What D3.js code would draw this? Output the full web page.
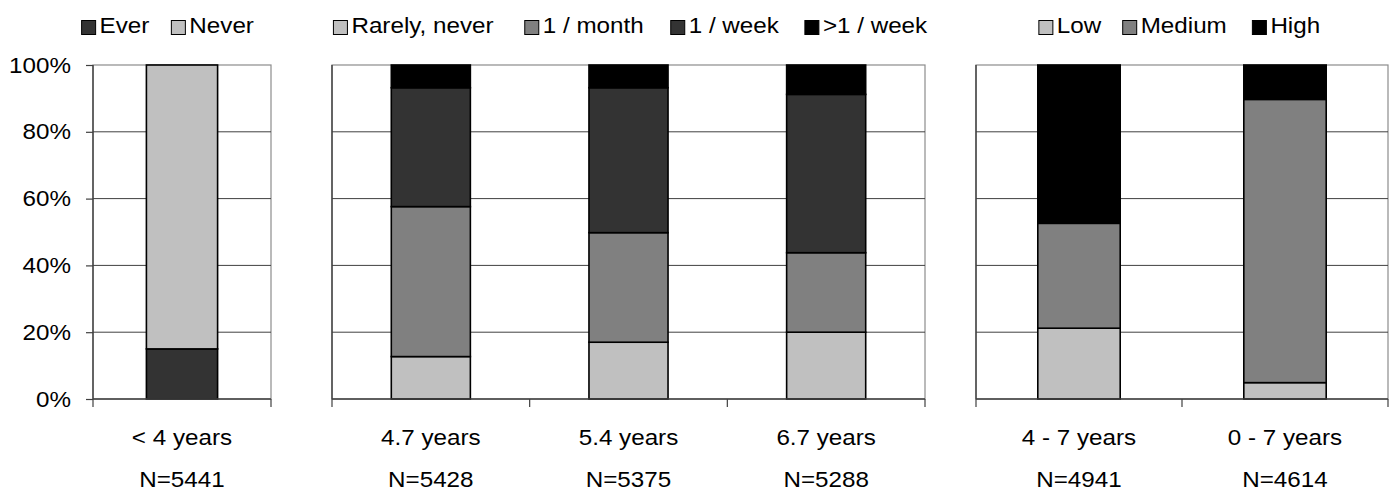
<!DOCTYPE html>
<html>
<head>
<meta charset="utf-8">
<script src="https://cdn.jsdelivr.net/npm/d3@7"></script>
<style>
  body { margin: 0; background: #fff; }
  text { font-family: "Liberation Sans", Arial, sans-serif; fill: #000; }
</style>
</head>
<body>
<div id="chart"></div>
<script>
// panel 1: smoking
const smokeCats = ["< 4 years"];
const smokeN = ["N=5441"];
const smokeSeries = ["Ever", "Never"];
const smokeEver = [15];
const smokeNever = [85];

// panel 2: frequency
const freqCats = ["4.7 years", "5.4 years", "6.7 years"];
const freqN = ["N=5428", "N=5375", "N=5288"];
const freqSeries = ["Rarely, never", "1 / month", "1 / week", ">1 / week"];
const freqRarely = [12.7, 17.0, 20.0];
const freqMonth = [44.9, 32.8, 23.8];
const freqWeek = [35.6, 43.4, 47.4];
const freqMore = [6.8, 6.8, 8.8];

// panel 3: level
const levelCats = ["4 - 7 years", "0 - 7 years"];
const levelN = ["N=4941", "N=4614"];
const levelSeries = ["Low", "Medium", "High"];
const levelLow = [21.2, 4.9];
const levelMedium = [31.4, 84.8];
const levelHigh = [47.4, 10.3];

const yTicks = [0, 20, 40, 60, 80, 100];

const W = 1396, H = 498;
const plotTop = 65, plotBottom = 399;
const fontSize = 22, stretch = 1.1;

const svg = d3.select("#chart").append("svg")
  .attr("width", W)
  .attr("height", H);

const y = d3.scaleLinear().domain([0, 100]).range([plotBottom, plotTop]);

function widen(sel) {
  sel.each(function () {
    const w = this.getComputedTextLength();
    d3.select(this).attr("textLength", w * stretch).attr("lengthAdjust", "spacingAndGlyphs");
  });
}

function drawPanel(cfg) {
  const g = svg.append("g");
  const x = d3.scaleBand().domain(cfg.cats).range([cfg.x0, cfg.x1]).paddingInner(0);
  const barW = x.bandwidth() * 0.4;

  // frame
  g.append("rect")
    .attr("x", cfg.x0).attr("y", plotTop)
    .attr("width", cfg.x1 - cfg.x0).attr("height", plotBottom - plotTop)
    .attr("fill", "none").attr("stroke", "#8c8c8c").attr("stroke-width", 1.2);

  // gridlines
  g.selectAll("line.grid")
    .data(yTicks.filter(d => d > 0 && d < 100))
    .join("line")
    .attr("class", "grid")
    .attr("x1", cfg.x0).attr("x2", cfg.x1)
    .attr("y1", d => y(d)).attr("y2", d => y(d))
    .attr("stroke", "#404040").attr("stroke-width", 1);

  // left axis line
  g.append("line")
    .attr("x1", cfg.x0).attr("x2", cfg.x0).attr("y1", plotTop).attr("y2", plotBottom)
    .attr("stroke", "#404040").attr("stroke-width", 1.4);

  // stacked bars
  const rows = cfg.cats.map((c, i) => {
    const r = { cat: c };
    cfg.series.forEach((s, j) => r[s] = cfg.values[j][i]);
    return r;
  });
  const stacked = d3.stack().keys(cfg.series)(rows);
  const color = d3.scaleOrdinal().domain(cfg.series).range(cfg.colors);

  g.selectAll("g.layer")
    .data(stacked)
    .join("g")
    .attr("class", "layer")
    .attr("fill", d => color(d.key))
    .selectAll("rect")
    .data(d => d)
    .join("rect")
    .attr("x", d => x(d.data.cat) + (x.bandwidth() - barW) / 2)
    .attr("y", d => y(d[1]))
    .attr("width", barW)
    .attr("height", d => y(d[0]) - y(d[1]))
    .attr("stroke", "#000")
    .attr("stroke-width", 1.6);

  // bottom axis
  g.append("line")
    .attr("x1", cfg.x0).attr("x2", cfg.x1).attr("y1", plotBottom).attr("y2", plotBottom)
    .attr("stroke", "#404040").attr("stroke-width", 1.4);
  const bounds = cfg.cats.map(c => x(c)).concat([cfg.x1]);
  g.selectAll("line.xtick")
    .data(bounds)
    .join("line")
    .attr("class", "xtick")
    .attr("x1", d => d).attr("x2", d => d)
    .attr("y1", plotBottom).attr("y2", plotBottom + 8)
    .attr("stroke", "#404040").attr("stroke-width", 1.2);

  g.selectAll("text.cat")
    .data(cfg.cats)
    .join("text")
    .attr("class", "cat")
    .attr("x", d => x(d) + x.bandwidth() / 2)
    .attr("y", 445)
    .attr("text-anchor", "middle")
    .style("font-size", fontSize + "px")
    .text(d => d)
    .call(widen);

  g.selectAll("text.n")
    .data(cfg.nLabels)
    .join("text")
    .attr("class", "n")
    .attr("x", (d, i) => x(cfg.cats[i]) + x.bandwidth() / 2)
    .attr("y", 487)
    .attr("text-anchor", "middle")
    .style("font-size", fontSize + "px")
    .text(d => d)
    .call(widen);

  if (cfg.showY) {
    const ax = g.append("g")
      .attr("transform", `translate(${cfg.x0},0)`)
      .call(d3.axisLeft(y).tickValues(yTicks).tickFormat(d => d + "%").tickSize(7).tickPadding(15));
    ax.select(".domain").remove();
    ax.selectAll(".tick line").attr("stroke", "#404040").attr("stroke-width", 1.2);
    ax.selectAll(".tick text")
      .style("font-size", fontSize + "px")
      .style("font-family", "'Liberation Sans', Arial, sans-serif")
      .attr("fill", "#000")
      .call(widen);
  }

  // legend
  const gap = 17;
  const lg = g.append("g");
  let cx = 0;
  cfg.series.forEach((s, i) => {
    const item = lg.append("g").attr("transform", `translate(${cx},0)`);
    item.append("rect")
      .attr("x", 0).attr("y", 20.5).attr("width", 14).attr("height", 14)
      .attr("fill", color(s)).attr("stroke", "#000").attr("stroke-width", 1);
    const t = item.append("text")
      .attr("x", 18).attr("y", 33)
      .style("font-size", fontSize + "px")
      .text(s)
      .call(widen);
    cx += 18 + t.node().getComputedTextLength() * stretch + gap;
  });
  const legW = cx - gap;
  const mid = (cfg.x0 + cfg.x1) / 2 + cfg.legendShift;
  lg.attr("transform", `translate(${mid - legW / 2},0)`);
}

drawPanel({
  x0: 93, x1: 271, cats: smokeCats, nLabels: smokeN,
  series: smokeSeries, values: [smokeEver, smokeNever],
  colors: ["#333333", "#c0c0c0"], showY: true, legendShift: -11
});

drawPanel({
  x0: 332, x1: 925, cats: freqCats, nLabels: freqN,
  series: freqSeries, values: [freqRarely, freqMonth, freqWeek, freqMore],
  colors: ["#c0c0c0", "#808080", "#333333", "#000000"], showY: false, legendShift: 7
});

drawPanel({
  x0: 976, x1: 1388, cats: levelCats, nLabels: levelN,
  series: levelSeries, values: [levelLow, levelMedium, levelHigh],
  colors: ["#c0c0c0", "#808080", "#000000"], showY: false, legendShift: 0
});
</script>
</body>
</html>
